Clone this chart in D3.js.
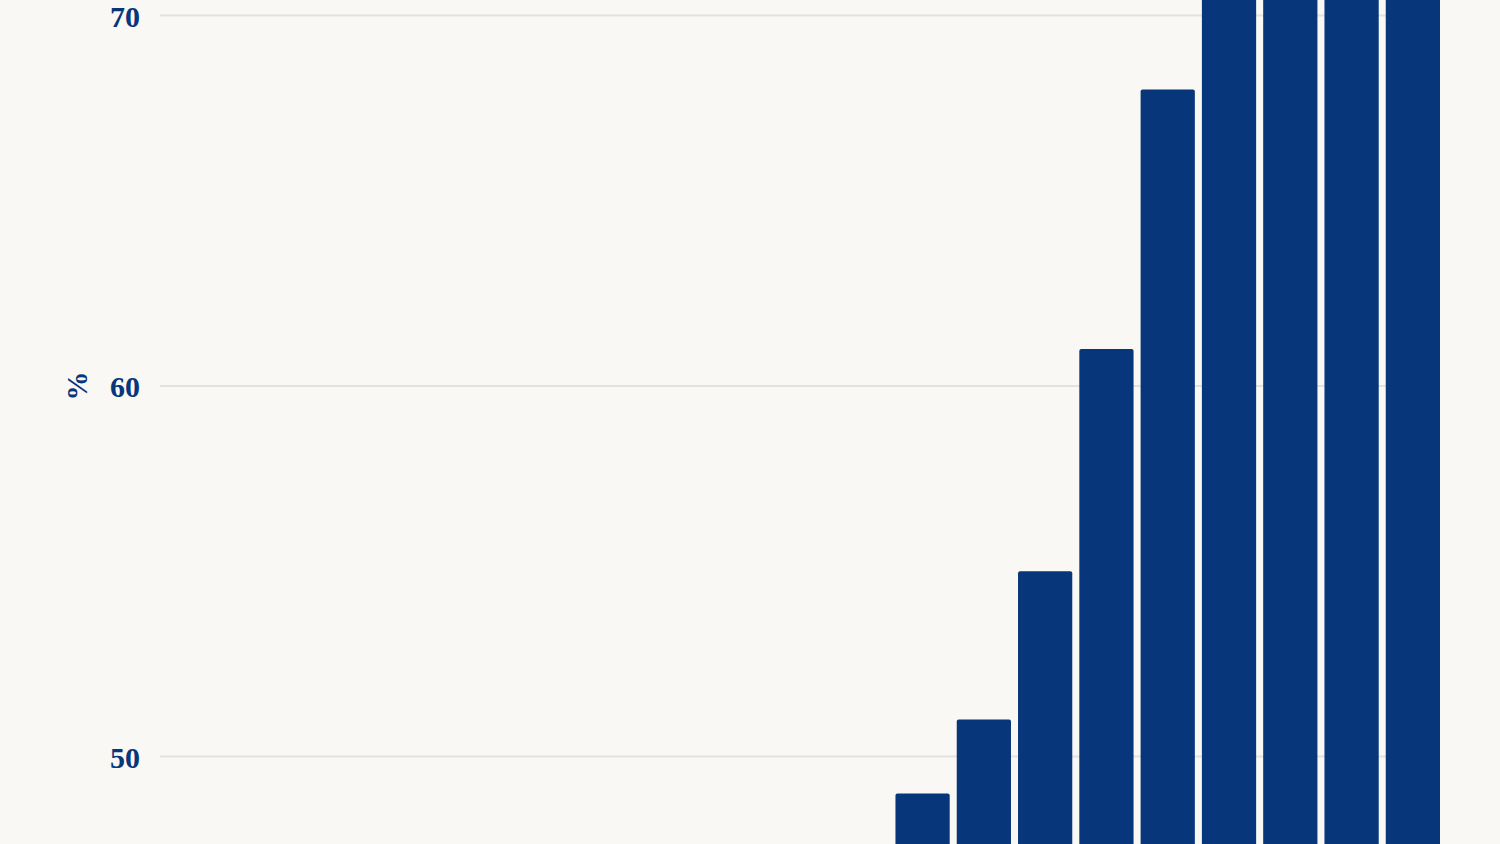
<!DOCTYPE html>
<html>
<head>
<meta charset="utf-8">
<script src="https://cdn.jsdelivr.net/npm/d3@7"></script>
<style>
  html, body { margin: 0; padding: 0; background: #f9f8f4; overflow: hidden; }
  svg { display: block; }
  .tick-label { font-family: "Liberation Serif", "DejaVu Serif", serif; font-weight: bold; fill: #08367a; }
</style>
</head>
<body>
<svg id="chart"></svg>
<script>
// categories (no x axis is visible in the picture, only the order matters)
const years = ['2002','2003','2004','2005','2006','2007','2008','2009','2010','2011','2012',
               '2013','2014','2015','2016','2017','2018','2019','2020','2021','2022'];
// share in %, bars left of 2014 sit below the visible part of the chart
const shares = [null, null, null, null, null, null, null, null, null, null, null, null,
                49.0, 51.0, 55.0, 61.0, 68.0, 72.0, 73.5, 74.5, 75.5];
const yTicks = [50, 60, 70];
const yLabel = '%';

class ShareBarchart {

  constructor(_config, _data) {
    this.config = {
      parentElement: _config.parentElement,
      containerWidth: _config.containerWidth || 1500,
      containerHeight: _config.containerHeight || 844,
      margin: _config.margin || {top: 15.5, right: 60, bottom: 87.5, left: 160}
    }
    this.data = _data;
    this.initVis();
  }

  initVis() {
    let vis = this;

    vis.width = vis.config.containerWidth - vis.config.margin.left - vis.config.margin.right;
    vis.height = vis.config.containerHeight - vis.config.margin.top - vis.config.margin.bottom;

    vis.xScale = d3.scaleBand()
      .range([0, vis.width])
      .paddingInner(0.115)
      .paddingOuter(0);

    vis.yScale = d3.scaleLinear()
      .range([vis.height, 0]);

    vis.svg = d3.select(vis.config.parentElement)
      .attr('width', vis.config.containerWidth)
      .attr('height', vis.config.containerHeight);

    vis.chart = vis.svg.append('g')
      .attr('transform', `translate(${vis.config.margin.left},${vis.config.margin.top})`);

    vis.gridG = vis.chart.append('g').attr('class', 'grid');
    vis.barsG = vis.chart.append('g').attr('class', 'bars');
    vis.yAxisG = vis.chart.append('g').attr('class', 'axis y-axis');

    // rotated unit label, level with the 60 tick
    vis.unitLabel = vis.svg.append('text')
      .attr('class', 'tick-label')
      .attr('text-anchor', 'middle')
      .attr('font-size', '29px')
      .text(yLabel);

    vis.updateVis();
  }

  updateVis() {
    let vis = this;

    vis.xValue = d => d.year;
    vis.yValue = d => d.share;

    vis.xScale.domain(vis.data.map(vis.xValue));
    vis.yScale.domain([50, 70]);

    vis.renderVis();
  }

  renderVis() {
    let vis = this;

    vis.gridG.selectAll('line')
      .data(yTicks)
      .join('line')
      .attr('x1', 0)
      .attr('x2', vis.width)
      .attr('y1', d => vis.yScale(d))
      .attr('y2', d => vis.yScale(d))
      .attr('stroke', '#e2e2e0')
      .attr('stroke-width', 2);

    // bottom of bars runs past the window edge, like in the picture
    const bottom = vis.height + 200;
    vis.barsG.selectAll('.bar')
      .data(vis.data.filter(d => d.share !== null), vis.xValue)
      .join('rect')
      .attr('class', 'bar')
      .attr('x', d => vis.xScale(vis.xValue(d)))
      .attr('width', vis.xScale.bandwidth())
      .attr('y', d => vis.yScale(vis.yValue(d)))
      .attr('height', d => bottom - vis.yScale(vis.yValue(d)))
      .attr('rx', 2)
      .style('fill', '#08367a');

    vis.yAxis = d3.axisLeft(vis.yScale)
      .tickValues(yTicks)
      .tickSize(0)
      .tickPadding(20);

    vis.yAxisG.call(vis.yAxis);
    vis.yAxisG.select('.domain').remove();
    vis.yAxisG.selectAll('text')
      .attr('class', 'tick-label')
      .attr('font-size', '30px')
      .attr('dy', '0.36em');

    const midY = vis.config.margin.top + vis.yScale(60);
    vis.unitLabel
      .attr('transform', `translate(87,${midY}) rotate(-90)`);
  }
}

const data = years.map((year, i) => ({year: year, share: shares[i]}));
new ShareBarchart({parentElement: '#chart'}, data);
</script>
</body>
</html>
